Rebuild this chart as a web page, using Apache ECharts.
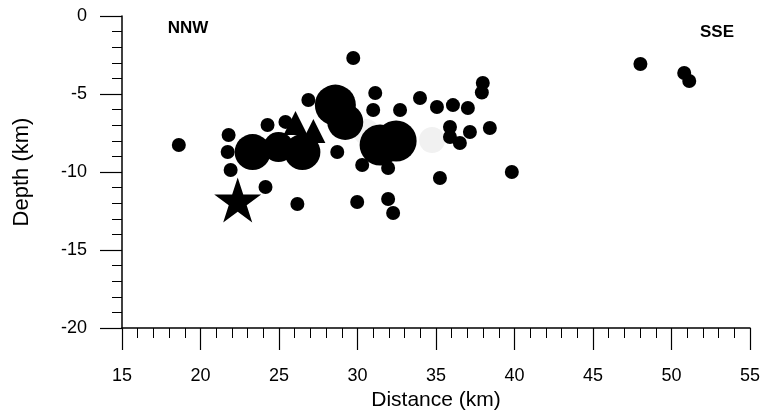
<!DOCTYPE html>
<html>
<head>
<meta charset="utf-8">
<script src="https://cdn.jsdelivr.net/npm/echarts@6/dist/echarts.min.js"></script>
<style>
html,body{margin:0;padding:0;background:#fff;}
#chart{width:762px;height:414px;}
</style>
</head>
<body>
<div id="chart"></div>
<script>
// ---- data (distance km, depth km) ----
var xTicks = [15, 20, 25, 30, 35, 40, 45, 50, 55];
var yTicks = [0, -5, -10, -15, -20];

var smallEvents = [
  [18.62,-8.27],[21.79,-7.63],[21.73,-8.72],[21.92,-9.87],
  [24.27,-6.99],[25.41,-6.79],[26.87,-5.38],[24.14,-10.96],[26.17,-12.05],
  [28.71,-8.72],[30.30,-9.55],[31.95,-9.74],[29.98,-11.92],[31.95,-11.73],[32.27,-12.63],
  [29.73,-2.69],[31.13,-4.94],[31.00,-6.03],[32.71,-6.03],
  [33.98,-5.26],[35.06,-5.83],[36.08,-5.71],[37.03,-5.90],
  [37.98,-4.29],[37.92,-4.90],[38.43,-7.18],[35.89,-7.12],[37.16,-7.44],
  [36.52,-8.14],[35.89,-7.76],[35.25,-10.38],[39.83,-10.00],
  [48.02,-3.08],[50.81,-3.65],[51.13,-4.17]
];
var mediumEvents = [[24.97,-8.40]];
var bigEvents = [[23.32,-8.72],[26.49,-8.72],[29.22,-6.79]];
var largeEvents = [[28.59,-5.71],[31.44,-8.27],[32.46,-8.01]];
var faintEvents = [[30.56,-7.44],[34.75,-7.95]];
var triangleEvents = [[26.05,-6.86],[27.19,-7.37]];
var starEvent = [[22.37,-11.79]];
var annotations = [
  {name:'NNW', value:[19.2,-0.8]},
  {name:'SSE', value:[52.9,-1.03]}
];

// star path
function starPath(){
  var pts = [];
  for (var i=0;i<10;i++){
    var r = (i%2===0)?50:19.1;
    var a = -Math.PI/2 + i*Math.PI/5;
    pts.push((r*Math.cos(a)).toFixed(2)+','+(r*Math.sin(a)).toFixed(2));
  }
  return 'path://M'+pts.join('L')+'Z';
}

var chart = echarts.init(document.getElementById('chart'), null, {renderer:'canvas'});
var black = '#000';
var FONT = '"Liberation Sans", Arial, Helvetica, sans-serif';

function markSeries(data, symbol, size, color, z){
  return {
    type:'scatter', data:data, symbol:symbol, symbolSize:size,
    itemStyle:{color:color, opacity:1}, z:z, silent:true, animation:false
  };
}

chart.setOption({
  animation:false,
  backgroundColor:'#fff',
  grid:{left:122, right:12, top:16, bottom:86, containLabel:false, outerBoundsMode:'none'},
  xAxis:{
    type:'value', min:xTicks[0], max:xTicks[xTicks.length-1], interval:5,
    name:'Distance (km)', nameLocation:'middle', nameGap:62,
    nameTextStyle:{fontFamily:FONT, fontSize:21, color:black},
    axisLine:{show:true, onZero:false, lineStyle:{color:black, width:1.5}},
    axisTick:{show:true, inside:false, length:22, lineStyle:{color:black, width:1.2}},
    minorTick:{show:true, splitNumber:5, length:10, lineStyle:{color:black, width:1}},
    axisLabel:{margin:39, fontFamily:FONT, fontSize:18, color:black},
    splitLine:{show:false}, minorSplitLine:{show:false}
  },
  yAxis:{
    type:'value', min:yTicks[yTicks.length-1], max:yTicks[0], interval:5,
    name:'Depth (km)', nameLocation:'middle', nameGap:89, nameRotate:90,
    nameTextStyle:{fontFamily:FONT, fontSize:22, color:black},
    axisLine:{show:true, onZero:false, lineStyle:{color:black, width:1.5}},
    axisTick:{show:true, inside:false, length:22, lineStyle:{color:black, width:1.2}},
    minorTick:{show:true, splitNumber:5, length:10, lineStyle:{color:black, width:1}},
    axisLabel:{margin:35, fontFamily:FONT, fontSize:18, color:black},
    splitLine:{show:false}, minorSplitLine:{show:false}
  },
  series:[
    markSeries(faintEvents, 'circle', 26, '#f1f1f1', 1),
    markSeries(smallEvents, 'circle', 14, black, 2),
    markSeries(mediumEvents, 'circle', 30, black, 3),
    markSeries(bigEvents, 'circle', 36, black, 3),
    markSeries(largeEvents, 'circle', 41, black, 3),
    markSeries(triangleEvents, 'triangle', [24,24], black, 4),
    markSeries(starEvent, starPath(), [47,45], black, 4),
    {type:'scatter', data:annotations, symbolSize:0, z:5, silent:true,
     itemStyle:{opacity:1},
     label:{show:true, position:'inside', formatter:'{b}', fontFamily:FONT,
            fontSize:17, fontWeight:'bold', color:black, opacity:1}}
  ]
});
</script>
</body>
</html>
